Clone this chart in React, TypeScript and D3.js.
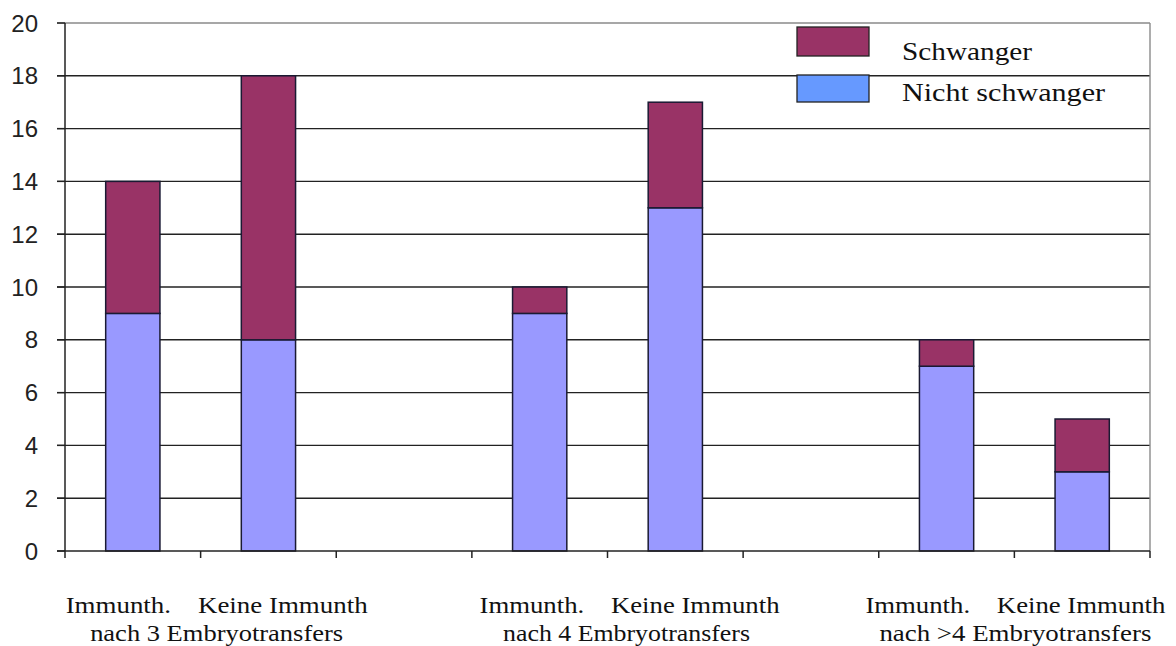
import React from "react";
import * as d3 from "d3";

const categories = ["Immunth. 3", "Keine 3", "gap1", "Immunth. 4", "Keine 4", "gap2", "Immunth. >4", "Keine >4"];
const nichtSchwanger = [9, 8, 0, 9, 13, 0, 7, 3];
const schwanger = [5, 10, 0, 1, 4, 0, 1, 2];
const yTicks = [0, 2, 4, 6, 8, 10, 12, 14, 16, 18, 20];
const groupLine1 = ["Immunth.\u00A0\u00A0\u00A0\u00A0Keine Immunth", "Immunth.\u00A0\u00A0\u00A0\u00A0Keine Immunth", "Immunth.\u00A0\u00A0\u00A0\u00A0Keine Immunth"];
const groupLine2 = ["nach 3 Embryotransfers", "nach 4 Embryotransfers", "nach >4 Embryotransfers"];
const groupFirstCat = [0, 3, 6];
const legendLabels = ["Schwanger", "Nicht schwanger"];

const W = 1176;
const H = 646;

export default function App() {
  const x = d3.scaleBand<string>().domain(categories).range([65, 1150]).paddingInner(0.6).paddingOuter(0.3);
  const y = d3.scaleLinear().domain([0, 20]).range([551, 23]);
  const step = x.step();
  const x0 = 65;
  const boundaries = d3.range(categories.length + 1).map((i) => x0 + i * step);
  const nudge = [16, 22, 1];
  const line1Len = [302, 300, 300];
  const line2Len = [253, 247, 272];
  const serif = "'Liberation Serif', 'Times New Roman', serif";
  const sans = "'Liberation Sans', Arial, sans-serif";

  return (
    <svg width={W} height={H} style={{ position: "absolute", left: 0, top: 0, background: "#fff" }}>
      <rect x={0} y={0} width={W} height={H} fill="#fff" />
      {/* grid lines */}
      {yTicks.filter((t) => t > 0 && t < 20).map((t) => (
        <line key={t} x1={57} x2={1150} y1={y(t)} y2={y(t)} stroke="#222" strokeWidth={1.4} />
      ))}
      {/* plot border top & right */}
      <line x1={57} x2={1150} y1={y(20)} y2={y(20)} stroke="#8a8a8a" strokeWidth={1.4} />
      <line x1={1150} x2={1150} y1={y(20)} y2={y(0)} stroke="#8a8a8a" strokeWidth={1.4} />
      {/* legend */}
      <g>
        <rect x={797} y={27} width={72} height={29} fill="#993366" stroke="#222" strokeWidth={1.3} />
        <rect x={797} y={75} width={72} height={27} fill="#6699FF" stroke="#222" strokeWidth={1.3} />
        <text x={902} y={60} fontFamily={serif} fontSize={26} fill="#111" textLength={130} lengthAdjust="spacingAndGlyphs">{legendLabels[0]}</text>
        <text x={902} y={101} fontFamily={serif} fontSize={26} fill="#111" textLength={203} lengthAdjust="spacingAndGlyphs">{legendLabels[1]}</text>
      </g>
      {/* bars */}
      {categories.map((c, i) => (
        <g key={c}>
          {nichtSchwanger[i] > 0 && (
            <rect x={x(c)} y={y(nichtSchwanger[i])} width={x.bandwidth()} height={y(0) - y(nichtSchwanger[i])}
              fill="#9999FF" stroke="#1a1a33" strokeWidth={1.5} />
          )}
          {schwanger[i] > 0 && (
            <rect x={x(c)} y={y(nichtSchwanger[i] + schwanger[i])} width={x.bandwidth()}
              height={y(nichtSchwanger[i]) - y(nichtSchwanger[i] + schwanger[i])}
              fill="#993366" stroke="#1a1a33" strokeWidth={1.5} />
          )}
        </g>
      ))}
      {/* axes */}
      <line x1={65} x2={65} y1={y(20)} y2={y(0)} stroke="#222" strokeWidth={1.5} />
      <line x1={57} x2={1150} y1={y(0)} y2={y(0)} stroke="#222" strokeWidth={1.5} />
      {yTicks.map((t) => (
        <g key={t}>
          <line x1={57} x2={65} y1={y(t)} y2={y(t)} stroke="#222" strokeWidth={1.4} />
          <text x={38} y={y(t)} dy="0.36em" textAnchor="end" fontFamily={sans} fontSize={24} fill="#222">{t}</text>
        </g>
      ))}
      {boundaries.map((b, i) => (
        <line key={i} x1={b} x2={b} y1={y(0)} y2={y(0) + 7} stroke="#222" strokeWidth={1.5} />
      ))}
      {/* x labels */}
      {groupFirstCat.map((ci, g) => {
        const cx = x0 + (ci + 1) * step + nudge[g];
        return (
          <g key={g}>
            <text x={cx - line1Len[g] / 2} y={613} fontFamily={serif} fontSize={23} fill="#111"
              textLength={line1Len[g]} lengthAdjust="spacingAndGlyphs">{groupLine1[g]}</text>
            <text x={cx - line2Len[g] / 2 + (g === 1 ? -3 : 0)} y={641} fontFamily={serif} fontSize={23} fill="#111"
              textLength={line2Len[g]} lengthAdjust="spacingAndGlyphs">{groupLine2[g]}</text>
          </g>
        );
      })}
    </svg>
  );
}
